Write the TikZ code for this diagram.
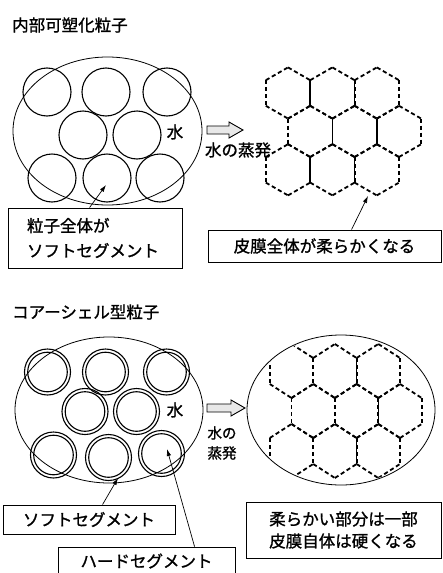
\documentclass[tikz,border=0pt]{standalone}
\usepackage{fontspec}
\setmainfont{Noto Sans CJK JP}[FakeBold=1.2]
\usetikzlibrary{arrows.meta}

% one hexagonal cell, pointy top: centre (#1,#2), half width #3,
% half length of the vertical sides #4, centre-to-vertex #5
\newcommand\hexcell[5]{%
  \draw[hexdash] ({#1-#3},{#2-#4}) -- ({#1},{#2-#5});
  \draw[hexdash] ({#1},{#2-#5}) -- ({#1+#3},{#2-#4});
  \draw[hexdash] ({#1+#3},{#2-#4}) -- ({#1+#3},{#2+#4});
  \draw[hexdash] ({#1-#3},{#2-#4}) -- ({#1-#3},{#2+#4});
  \draw[hexdash] ({#1-#3},{#2+#4}) -- ({#1},{#2+#5});
  \draw[hexdash] ({#1},{#2+#5}) -- ({#1+#3},{#2+#4});
}
% hollow block arrow pointing right: tail at (#1,#2), length #3
\newcommand\blockarrow[3]{%
  \draw[blockarr] (#1,{#2-4}) -- ({#1+#3-14},{#2-4}) -- ({#1+#3-14},{#2-8})
    -- ({#1+#3},#2) -- ({#1+#3-14},{#2+8}) -- ({#1+#3-14},{#2+4})
    -- (#1,{#2+4}) -- cycle;
}

\begin{document}
\begin{tikzpicture}[x=1pt,y=-1pt,
  outline/.style={line width=0.8pt},
  ring/.style={line width=1.1pt},
  hexdash/.style={line width=1.8pt, dash pattern=on 4.2pt off 2.8pt},
  hexsolid/.style={line width=1.6pt},
  blockarr/.style={line width=0.9pt, fill=gray!18, line join=miter},
  jp/.style={font=\fontsize{16.5}{20}\selectfont, inner sep=0pt},
  textbox/.style={draw, line width=0.9pt, inner sep=0pt,
    font=\fontsize{16.5}{25}\selectfont},
  pointer/.style={line width=0.7pt, -{Latex[length=7pt,width=4.5pt]}}
]
\useasboundingbox (0,0) rectangle (442,573);
\clip (0,0) rectangle (442,573);

% ---------------- internally plasticised particles ----------------
\node[jp, anchor=west] (title1) at (12,25) {内部可塑化粒子};

\draw[outline] (107.5,131) ellipse [x radius=94.5, y radius=74];
\foreach \cx/\cy in {47/92,106/92,167/92,83/135,137/135,52/178,107/178,160/178}
  \draw[ring] (\cx,\cy) circle [radius=24];
\node[jp] (water1) at (175,132) {水};

\blockarrow{207}{130}{36}
\node[jp] (evaptext1) at (238,150) {水の蒸発};

% film: dashed hexagonal network
\foreach \cx in {288,332.4,376.8} {
  \hexcell{\cx}{93}{22.2}{12.8}{25.6}
  \hexcell{\cx}{169.8}{22.2}{12.8}{25.6}
}
\foreach \cx in {310.2,354.6,399}
  \hexcell{\cx}{131.4}{22.2}{12.8}{25.6}
\foreach \x/\ya/\yb in {310.2/80.2/105.8, 354.6/80.2/105.8,
                        332.4/118.6/144.2, 376.8/118.6/144.2,
                        310.2/157/182.6, 354.6/157/182.6}
  \draw[hexsolid] (\x,\ya) -- (\x,\yb);

\node[textbox, minimum width=174pt, minimum height=60pt,
      text width=136pt, align=left] (box1) at (95,238)
  {粒子全体が\\ソフトセグメント};
\node[textbox, minimum width=233pt, minimum height=32pt] (box2) at (324.5,246)
  {皮膜全体が柔らかくなる};

\coordinate (tip1) at (106,185);
\coordinate (tip2) at (368,196);
\draw[pointer] ([xshift=82pt]box1.north west) -- (tip1);
\draw[pointer] ([xshift=144pt]box2.north west) -- (tip2);

% ---------------- core-shell particles ----------------
\node[jp, anchor=west] (title2) at (12,312) {コアーシェル型粒子};

\draw[outline] (109,410) ellipse [x radius=94, y radius=73];
\foreach \cx/\cy in {47.5/372,105.5/372,166.5/372,85/411.5,136.5/411.5,
                     53.5/455,108.5/457.5,161.5/453.5} {
  \draw[ring] (\cx,\cy) circle [radius=23];
  \draw[ring] (\cx,\cy) circle [radius=19.8];
}
\node[jp] (water2) at (175,410) {水};

\blockarrow{207}{408}{38}
\node[inner sep=0pt, align=center, font=\fontsize{14.5}{20}\selectfont]
  (evaptext2) at (222,443) {水の\\蒸発};

\draw[outline] (341,410) ellipse [x radius=94, y radius=75];
\begin{scope}
  \clip (341,410) ellipse [x radius=93, y radius=74];
  \foreach \cx in {291.5,334.9,378.3} {
    \hexcell{\cx}{371}{21.7}{13}{27}
    \hexcell{\cx}{451}{21.7}{13}{27}
  }
  \foreach \cx in {313.2,356.6,400}
    \hexcell{\cx}{411}{21.7}{13}{27}
  \draw[hexsolid] (356.6,358) -- (356.6,384);
  \draw[hexsolid] (378.3,398) -- (378.3,424);
  \draw[hexsolid] (356.6,438) -- (356.6,464);
\end{scope}

\node[textbox, minimum width=172pt, minimum height=29pt] (box3) at (89,519.5)
  {ソフトセグメント};
\node[textbox, minimum width=177pt, minimum height=28pt] (box4) at (146.5,561)
  {ハードセグメント};
\node[textbox, minimum width=195pt, minimum height=56pt, align=center,
      font=\fontsize{16.5}{22}\selectfont] (box5) at (343.5,530)
  {柔らかい部分は一部\\皮膜自体は硬くなる};

\coordinate (tip3) at (118,478);
\coordinate (tip4) at (167,449);
\draw[pointer] ([xshift=100pt]box3.north west) -- (tip3);
\draw[pointer] ([xshift=137pt]box4.north west) -- (tip4);
\end{tikzpicture}
\end{document}
